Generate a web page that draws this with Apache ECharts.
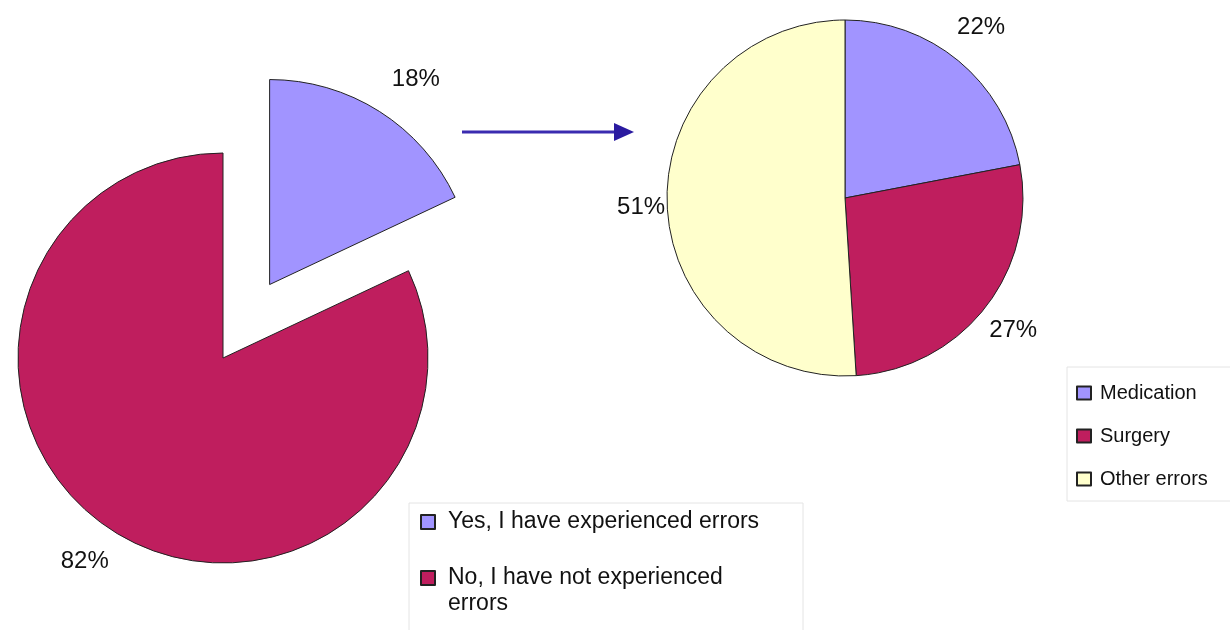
<!DOCTYPE html>
<html><head><meta charset="utf-8">
<script src="https://cdn.jsdelivr.net/npm/echarts@6/dist/echarts.min.js"></script>
<style>html,body{margin:0;padding:0;background:#fff}#c{width:1230px;height:630px}</style>
</head><body><div id="c"></div>
<script>
// ---- data ----
const mainCategories = ['Yes, I have experienced errors', 'No, I have not experienced errors'];
const mainValues = [18, 82];
const errorCategories = ['Medication', 'Surgery', 'Other errors'];
const errorValues = [22, 27, 51];

// ---- styles ----
const PURPLE = '#A194FF', MAROON = '#BF1E5E', YELLOW = '#FFFFCC';
const mainColors = [PURPLE, MAROON];
const errorColors = [PURPLE, MAROON, YELLOW];
const FONT = '"Liberation Sans", Arial, sans-serif';
// small label nudges (pixels) to mimic the original label placement
const mainLabelShift = [[-6, -11], [14, 9]];
const errorLabelShift = [[-14, -24], [-11, 16], [15, 3]];

const chart = echarts.init(document.getElementById('c'), null, {renderer: 'canvas'});

const mainData = mainCategories.map((n, i) => ({
  name: n, value: mainValues[i], selected: i === 0,
  itemStyle: {color: mainColors[i]}
}));
const errorData = errorCategories.map((n, i) => ({
  name: n, value: errorValues[i], itemStyle: {color: errorColors[i]}
}));

const labelCommon = {
  show: true, position: 'outside', formatter: '{c}%',
  fontSize: 24, color: '#111', fontFamily: FONT
};

chart.setOption({
  animation: false,
  backgroundColor: '#fff',
  legend: [
    {
      orient: 'vertical', left: 409, top: 503, height: 400,
      padding: [6, 35, 40, 11],
      borderColor: '#e4e4e4', borderWidth: 1,
      itemWidth: 14, itemHeight: 14, itemGap: 4,
      icon: 'rect', selectedMode: false,
      formatter: name => (name === mainCategories[1] ? '\n' + name : name),
      textStyle: {fontSize: 23, lineHeight: 26, color: '#111', fontFamily: FONT,
                  width: 320, overflow: 'break', padding: [0, 0, 0, 8]},
      data: mainCategories
    },
    {
      orient: 'vertical', left: 1067, top: 367, height: 300,
      padding: [14, 40, 10, 9],
      borderColor: '#e4e4e4', borderWidth: 1,
      itemWidth: 14, itemHeight: 13, itemGap: 19,
      icon: 'rect', selectedMode: false,
      textStyle: {fontSize: 20, lineHeight: 24, color: '#111', fontFamily: FONT, padding: [0, 0, 0, 4]},
      data: errorCategories
    }
  ],
  graphic: [
    {type: 'line', silent: true, shape: {x1: 462, y1: 132, x2: 618, y2: 132},
     style: {stroke: '#3A2BB0', lineWidth: 3}},
    {type: 'polygon', silent: true, shape: {points: [[614, 123], [634, 132], [614, 141]]},
     style: {fill: '#2A1AA0'}}
  ],
  series: [
    {
      type: 'pie', center: [223, 358], radius: 205,
      startAngle: 90, clockwise: true,
      selectedMode: 'single', selectedOffset: 87,
      avoidLabelOverlap: false,
      itemStyle: {borderColor: '#222', borderWidth: 1},
      select: {itemStyle: {borderColor: '#222', borderWidth: 1}},
      emphasis: {disabled: true},
      label: labelCommon,
      labelLine: {show: false, length: 25, length2: 0},
      labelLayout: p => ({dx: mainLabelShift[p.dataIndex][0], dy: mainLabelShift[p.dataIndex][1]}),
      data: mainData
    },
    {
      type: 'pie', center: [845, 198], radius: 178,
      startAngle: 90, clockwise: true,
      avoidLabelOverlap: false,
      itemStyle: {borderColor: '#222', borderWidth: 1},
      emphasis: {disabled: true},
      label: labelCommon,
      labelLine: {show: false, length: 12, length2: 0},
      labelLayout: p => ({dx: errorLabelShift[p.dataIndex][0], dy: errorLabelShift[p.dataIndex][1]}),
      data: errorData
    }
  ]
});
</script>
</body></html>
